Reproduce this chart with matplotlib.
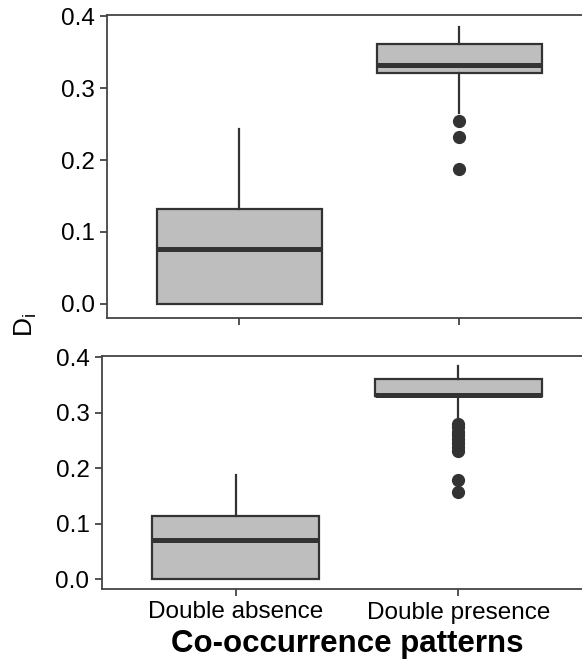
import matplotlib
matplotlib.use('Agg')
import matplotlib.pyplot as plt

plt.rcParams['font.family'] = ['Liberation Sans', 'DejaVu Sans']

categories = ['Double absence', 'Double presence']

# summary stats: [whislo, q1, median, q3, whishi]
top_absence = [0.0, 0.0, 0.0757, 0.1325, 0.2427]
top_presence = [0.266, 0.3208, 0.332, 0.361, 0.3845]
top_presence_fliers = [0.254, 0.2315, 0.187]

bottom_absence = [0.0, 0.0, 0.0703, 0.1135, 0.1886]
bottom_presence = [0.292, 0.3297, 0.331, 0.361, 0.3843]
bottom_presence_fliers = [0.280, 0.274, 0.266, 0.259, 0.252, 0.245, 0.238, 0.231, 0.178, 0.158]

yticks = [0.0, 0.1, 0.2, 0.3, 0.4]

W, H = 582, 666
fig = plt.figure(figsize=(W / 100, H / 100), dpi=100)

def px_axes(left, right, top, bottom):
    return fig.add_axes([left / W, 1 - bottom / H, (right - left) / W, (bottom - top) / H])

edge = '#333333'

def make_stats(vals, fliers):
    return {'whislo': vals[0], 'q1': vals[1], 'med': vals[2], 'q3': vals[3],
            'whishi': vals[4], 'fliers': fliers}

def draw_panel(ax, absence, presence, fliers, ylim):
    stats = [make_stats(absence, []), make_stats(presence, fliers)]
    ax.bxp(stats, positions=[1, 2], widths=0.75, patch_artist=True, showcaps=False,
           boxprops=dict(facecolor='#BEBEBE', edgecolor=edge, linewidth=1.6),
           medianprops=dict(color=edge, linewidth=3.6, solid_capstyle='butt'),
           whiskerprops=dict(color=edge, linewidth=1.6),
           flierprops=dict(marker='o', markerfacecolor=edge, markeredgecolor=edge,
                           markersize=8.5))
    ax.set_xlim(0.4, 2.6)
    ax.set_ylim(*ylim)
    ax.set_yticks(yticks)
    ax.set_yticklabels(['%.1f' % t for t in yticks])
    for side in ['left', 'bottom', 'top']:
        ax.spines[side].set_color('#444444')
        ax.spines[side].set_linewidth(1.3)
    ax.spines['right'].set_visible(False)
    ax.tick_params(axis='both', length=5, width=1.3, color='#444444', labelsize=17.5,
                   labelcolor='black', pad=4)

ax1 = px_axes(107, 591, 15, 318)
draw_panel(ax1, top_absence, top_presence, top_presence_fliers, (-0.0195, 0.4015))
ax1.set_xticks([1, 2])
ax1.set_xticklabels([])

ax2 = px_axes(102, 592, 356, 589)
draw_panel(ax2, bottom_absence, bottom_presence, bottom_presence_fliers, (-0.0175, 0.402))
ax2.set_xticks([1, 2])
ax2.set_xticklabels(categories)
ax2.set_xlabel('Co-occurrence patterns', fontsize=22.5, fontweight='bold', labelpad=4)

fig.text(26 / W, 1 - 325 / H, r'$\mathregular{D_i}$', rotation=90, fontsize=19,
         ha='center', va='center')

fig.savefig('out.png', dpi=100)
